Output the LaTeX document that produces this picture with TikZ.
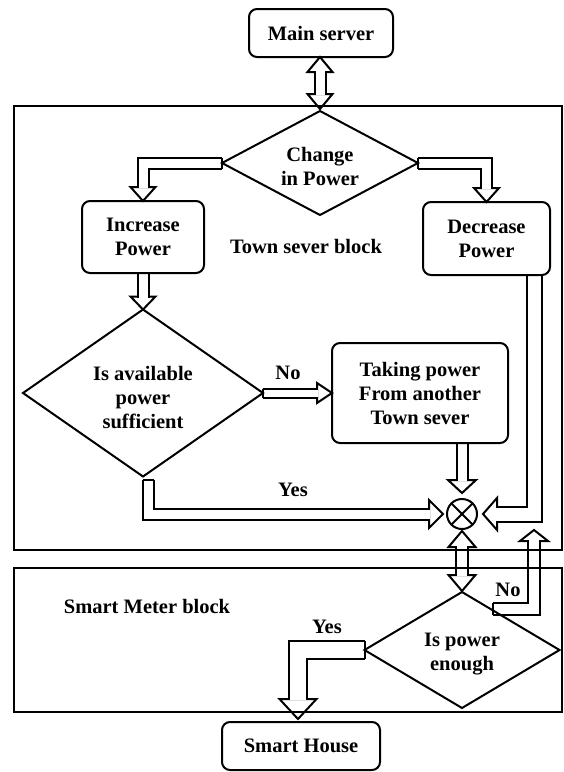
\documentclass[tikz,border=0pt]{standalone}
\usepackage{fontspec}
\setmainfont{Liberation Serif}
\usetikzlibrary{shapes.geometric,calc}
\pgfdeclarelayer{background}
\pgfsetlayers{background,main}
\tikzset{
  lw/.style={line width=2pt},
  txt/.style={font=\fontsize{20.5}{24}\selectfont\bfseries, align=center, inner sep=0pt},
  box/.style={draw, lw, rounded corners=8pt, inner sep=0pt, outer sep=0pt, align=center, txt},
  dia/.style={draw, lw, diamond, inner sep=0pt, outer sep=0pt},
  blk/.style={draw, line width=2.4pt, inner sep=0pt, outer sep=0pt},
  shaft/.style={line width=2pt, double=white, double distance=#1, line join=miter, line cap=butt},
  hd/.style={line width=2pt, fill=white, line join=miter},
}
\newcommand{\arrhead}[4]{\draw[hd, shift={(#1)}, rotate=#2] (0,0) -- (-#3,#4) -- (-#3,-#4) -- cycle;}
\newcommand{\capline}[2]{\draw[lw] ($(#1)+(#2)$) -- ($(#1)-(#2)$);}
\begin{document}
\begin{tikzpicture}[x=1pt,y=-1pt]
\useasboundingbox (0,0) rectangle (564,772);
% blocks
\node[blk, minimum width=548pt, minimum height=444pt] (town) at (288,328) {};
\node[blk, minimum width=548pt, minimum height=144pt] (meter) at (288,640) {};
% nodes
\node[box, minimum width=144pt, minimum height=48pt] (ms) at (321,33) {Main server};
\node[dia, minimum width=196pt, minimum height=104pt] (chg) at (320,163) {};
\node[txt] (chgt) at (320,166) {Change\\in Power};
\node[box, minimum width=122pt, minimum height=72pt] (inc) at (143,237) {Increase\\Power};
\node[box, minimum width=127pt, minimum height=73pt] (dec) at (486.5,238.5) {Decrease\\Power};
\node[txt] (townlbl) at (306,246) {Town sever block};
\node[dia, minimum width=240pt, minimum height=167pt] (avail) at (143,393) {};
\node[txt] (availt) at (143,398) {Is available\\power\\sufficient};
\node[box, minimum width=176pt, minimum height=100pt] (take) at (420,393) {Taking power\\From another\\Town sever};
\node[draw, lw, circle, minimum size=30pt, inner sep=0pt, outer sep=0pt] (circ) at (462,514) {};
\draw[lw] (circ.north east) -- (circ.south west) (circ.north west) -- (circ.south east);
\node[dia, minimum width=195pt, minimum height=116pt] (enough) at (462,650) {};
\node[txt] (enought) at (462,654) {Is power\\enough};
\node[box, minimum width=158pt, minimum height=48pt] (house) at (301,746) {Smart House};
\node[txt] (meterlbl) at (147,606) {Smart Meter block};
\node[txt] (no1) at (288,373) {No};
\node[txt] (yes1) at (293,490) {Yes};
\node[txt] (no2) at (508,590) {No};
\node[txt] (yes2) at (327,627) {Yes};

\begin{pgfonlayer}{background}
% main server <-> change
\coordinate (a1) at (chg.north |- ms.south);
\coordinate (a2) at ($(chg.north)+(0,-2)$);
\arrhead{a1}{90}{15}{12.5}
\arrhead{a2}{-90}{15}{12.5}
\draw[shaft=9] ($(a1)+(0,14)$) -- ($(a2)+(0,-14)$);
% change -> increase
\arrhead{inc.north}{-90}{14}{12.5}
\draw[shaft=9] (chg.west) -- (inc.north |- chg.west) -- ($(inc.north)+(0,-13)$);
% change -> decrease
\arrhead{dec.north}{-90}{14}{12.5}
\draw[shaft=9] (chg.east) -- (dec.north |- chg.east) -- ($(dec.north)+(0,-13)$);
% increase -> available
\arrhead{avail.north}{-90}{13}{12.5}
\draw[shaft=9] (inc.south) -- ($(avail.north)+(0,-12)$);
% available -> taking (No)
\arrhead{take.west}{0}{15}{10}
\draw[shaft=7] (avail.east) -- ($(take.west)+(-14,0)$);
% taking -> circle
\coordinate (t1) at ($(circ.north)+(0,-6)$);
\arrhead{t1}{-90}{13}{14}
\draw[shaft=9] (circ.north |- take.south) -- ($(t1)+(0,-12)$);
% available -> circle (Yes)
\coordinate (y1) at ($(circ.west)+(-4,0)$);
\coordinate (y0) at ($(avail.south)+(5,3)$);
\arrhead{y1}{0}{14}{14}
\draw[shaft=9] (y0) -- (y0 |- y1) -- ($(y1)+(-13,0)$);
% decrease -> circle
\coordinate (d0) at ($(dec.south east)+(-16,0)$);
\coordinate (d1) at ($(circ.east)+(6,0)$);
\arrhead{d1}{180}{14}{16}
\draw[shaft=13] (d0) -- (d0 |- d1) -- ($(d1)+(13,0)$);
% circle <-> enough
\coordinate (c1) at ($(circ.south)+(0,2)$);
\coordinate (c2) at ($(enough.north)+(0,-1)$);
\arrhead{c1}{90}{16}{13.5}
\arrhead{c2}{-90}{16}{13.5}
\draw[shaft=10] ($(c1)+(0,15)$) -- ($(c2)+(0,-15)$);
% enough -> house (Yes)
\coordinate (h1) at ($(house.north)+(-3,-3)$);
\arrhead{h1}{-90}{20}{18.5}
\draw[shaft=16] (enough.west) -- (h1 |- enough.west) -- ($(h1)+(0,-19)$);
% enough -> up (No)
\coordinate (n1) at ($(d0 |- circ.south)+(0,1)$);
\coordinate (n0) at (493,608.5);
\arrhead{n1}{90}{11}{14}
\draw[shaft=10] (n0) -- (n1 |- n0) -- ($(n1)+(0,10)$);
\end{pgfonlayer}
% start caps
\capline{chg.west}{0,5.5}
\capline{chg.east}{0,5.5}
\capline{avail.east}{0,4.5}
\capline{y0}{5.5,0}
\capline{enough.west}{0,9}
\capline{n0}{0,6}
\end{tikzpicture}
\end{document}
